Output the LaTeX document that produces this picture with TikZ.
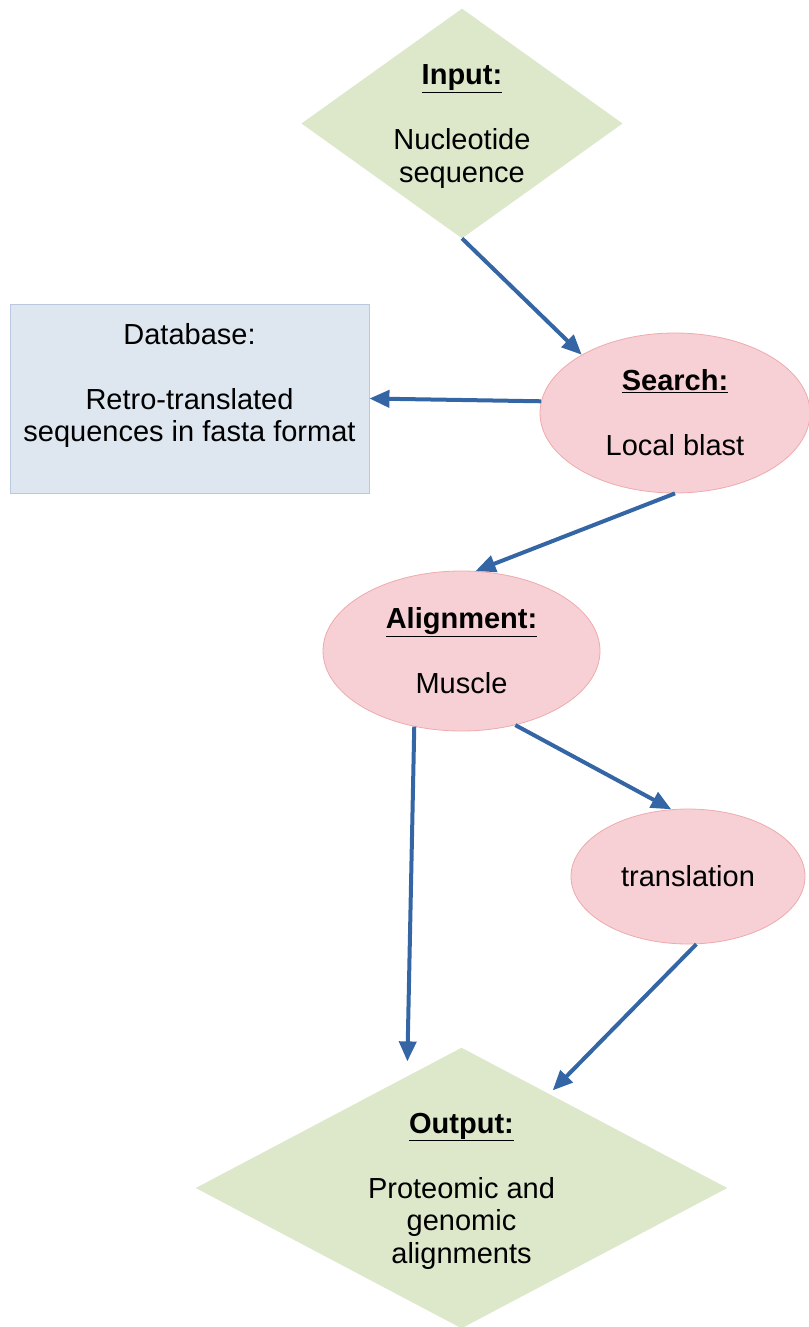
\documentclass[tikz,border=0pt]{standalone}
\usepackage{fontspec}
\setmainfont{Liberation Sans}
\usetikzlibrary{shapes.geometric,arrows.meta}
\definecolor{dgreen}{RGB}{221,232,203}
\definecolor{dpink}{RGB}{247,208,213}
\definecolor{dpinkline}{RGB}{238,170,172}
\definecolor{dblue}{RGB}{222,230,239}
\definecolor{dblueline}{RGB}{185,202,224}
\definecolor{arrowblue}{RGB}{52,101,164}
\tikzset{
  every node/.style={font=\fontsize{29}{32.5}\selectfont, align=center, inner sep=0pt},
  decision/.style={diamond, fill=dgreen, draw=dgreen, line width=0.8pt, aspect=1},
  process/.style={ellipse, fill=dpink, draw=dpinkline, line width=0.8pt},
  store/.style={rectangle, fill=dblue, draw=dblueline, line width=0.8pt},
  flow/.style={draw=arrowblue, line width=4pt, -{Triangle[length=20pt,width=17pt]}},
}
\newcommand{\ttl}[1]{\underline{\textbf{#1}}}
\begin{document}
\begin{tikzpicture}[x=1pt,y=1pt]
\useasboundingbox (0,0) rectangle (808,-1327);
\node[decision, minimum width=320pt, minimum height=229pt] (in) at (462,-123.5) {};
\node (intext) at ([yshift=-3pt]in.center) {\ttl{Input:}\\\mbox{}\\Nucleotide\\sequence};
\node[store, minimum width=359pt, minimum height=189pt] (db) at (189.5,-398.5)
  {Database:\\\mbox{}\\Retro-translated\\sequences in fasta format\\\mbox{}};
\node[process, minimum width=270pt, minimum height=160pt] (srch) at (675,-413)
  {\ttl{Search:}\\\mbox{}\\Local blast};
\node[process, minimum width=277pt, minimum height=160pt] (al) at (461.5,-651)
  {\ttl{Alignment:}\\\mbox{}\\Muscle};
\node[process, minimum width=234pt, minimum height=135pt] (tr) at (688,-876.5)
  {translation};
\node[decision, minimum width=530pt, minimum height=280pt] (out) at (461.5,-1188) {};
\node (outtext) at ([yshift=-3pt]out.center) {\ttl{Output:}\\\mbox{}\\Proteomic and\\genomic\\alignments};
\draw[flow] (in.south) -- (srch.148.6);
\draw[flow] (srch.175.3) -- (db.east);
\draw[flow] (srch.south) -- (al.80.6);
\draw[flow, shorten >=15pt] (al.238.8) -- (out.116.4);
\draw[flow] (al.306.4) -- (tr.104.2);
\draw[flow, shorten >=5pt] (tr.277.2) -- (out.47.2);
\end{tikzpicture}
\end{document}
